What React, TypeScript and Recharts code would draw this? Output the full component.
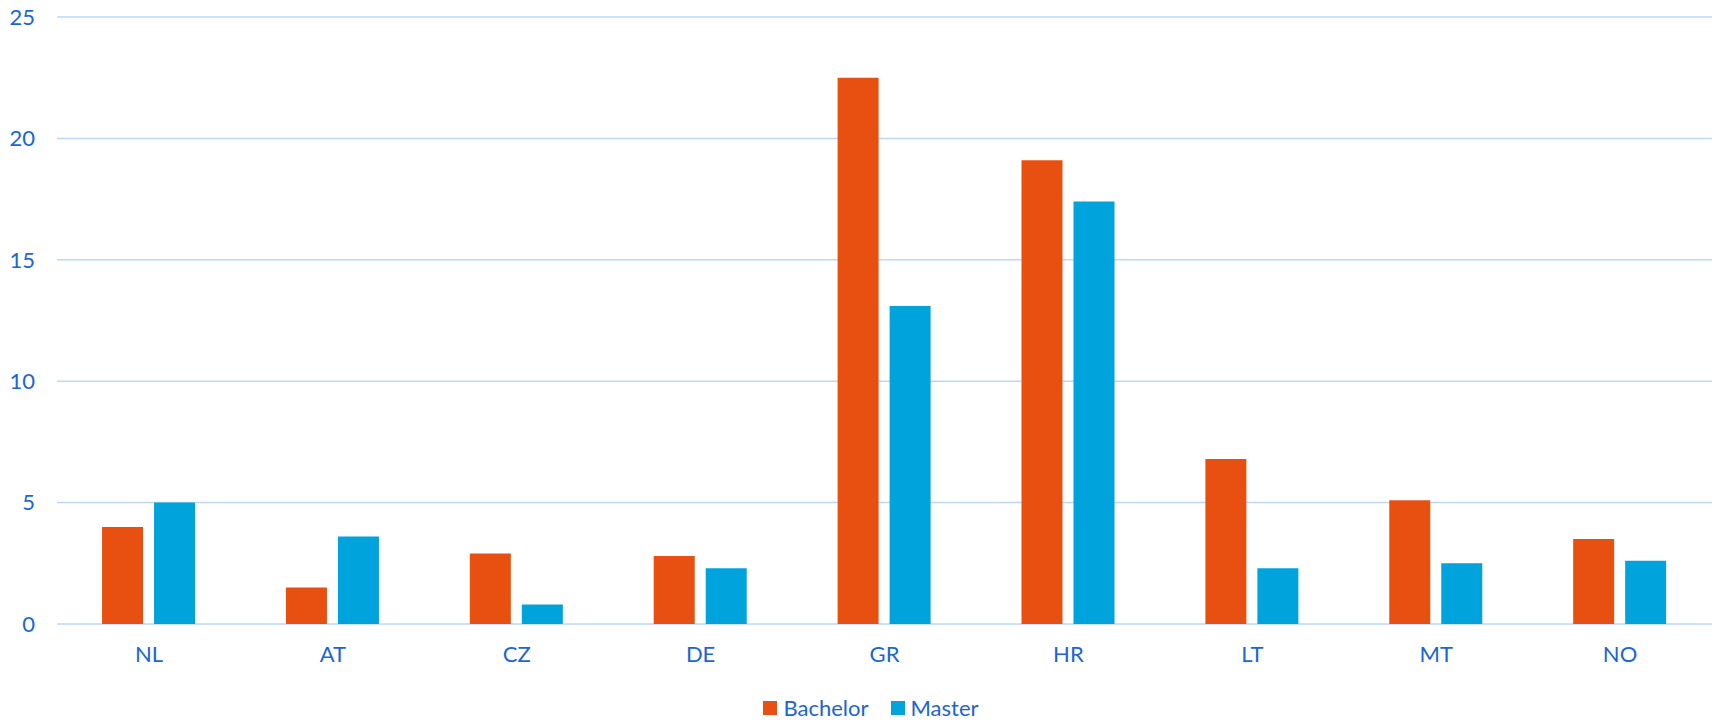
import React from 'react';
import { BarChart, Bar, XAxis, YAxis, CartesianGrid, Legend } from 'recharts';

// values
const countries = ['NL', 'AT', 'CZ', 'DE', 'GR', 'HR', 'LT', 'MT', 'NO'];
const bachelor = [4.0, 1.5, 2.9, 2.8, 22.5, 19.1, 6.8, 5.1, 3.5];
const master = [5.0, 3.6, 0.8, 2.3, 13.1, 17.4, 2.3, 2.5, 2.6];
const yTicks = [0, 5, 10, 15, 20, 25];

const data = countries.map((c, i) => ({
  country: c,
  Bachelor: bachelor[i],
  Master: master[i],
}));

const textColor = '#1A66D2';
const fontFamily = 'Lato, "Open Sans", sans-serif';

// legend drawn by hand so the spacing matches
const renderLegend = (props) => {
  const { payload } = props;
  return (
    <div
      style={{
        display: 'flex',
        justifyContent: 'center',
        alignItems: 'center',
        paddingLeft: 30,
        fontSize: 22,
        color: textColor,
        fontFamily,
      }}
    >
      {(payload || []).map((entry, i) => (
        <div
          key={entry.value}
          style={{ display: 'flex', alignItems: 'center', marginLeft: i > 0 ? 22 : 0 }}
        >
          <span
            style={{ width: 14, height: 14, background: entry.color, display: 'inline-block', marginRight: 6 }}
          />
          <span>{entry.value}</span>
        </div>
      ))}
    </div>
  );
};

const App = () => {
  return (
    <div style={{ width: 1717, height: 721, background: '#fff' }}>
      <style>{'body { margin: 0; }'}</style>
      <BarChart
        width={1717}
        height={721}
        data={data}
        margin={{ top: 17, right: 5, left: 0, bottom: 0 }}
        barCategoryGap="24.5%"
        barGap={11}
        style={{ fontFamily }}
      >
        <CartesianGrid vertical={false} stroke="#BCD8F6" strokeWidth={1.5} />
        <XAxis
          dataKey="country"
          axisLine={false}
          tickLine={false}
          tickSize={0}
          tickMargin={22}
          height={70}
          tick={{ fill: textColor, fontSize: 22 }}
        />
        <YAxis
          domain={[0, 25]}
          ticks={yTicks}
          axisLine={false}
          tickLine={false}
          tickSize={0}
          tickMargin={22}
          width={57}
          tick={{ fill: textColor, fontSize: 22 }}
        />
        <Legend verticalAlign="bottom" align="center" content={renderLegend} wrapperStyle={{ bottom: 0 }} />
        <Bar dataKey="Bachelor" fill="#E85011" isAnimationActive={false} />
        <Bar dataKey="Master" fill="#00A3DC" isAnimationActive={false} />
      </BarChart>
    </div>
  );
};

export default App;
